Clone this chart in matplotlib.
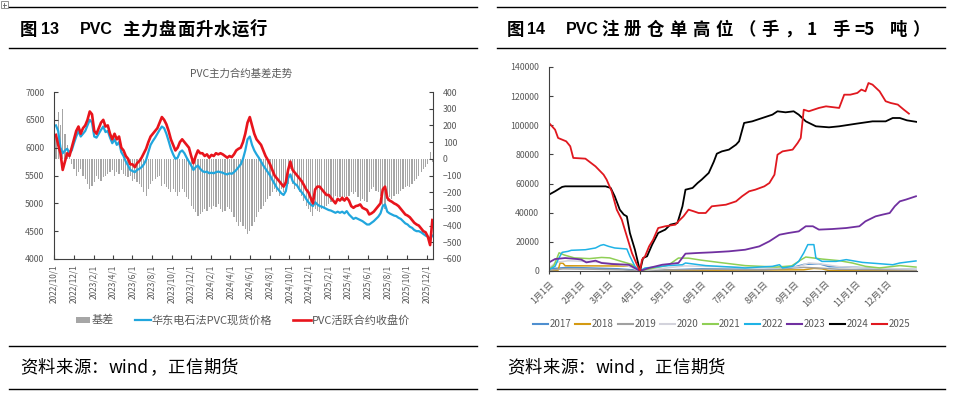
import matplotlib
matplotlib.use('Agg')
import matplotlib.pyplot as plt
from matplotlib.lines import Line2D
from matplotlib.patches import Rectangle
import pandas as pd

plt.rcParams['font.family'] = ['Noto Sans CJK SC', 'DejaVu Sans']

# ---------------- left chart data (weekly, Fridays from 2022-10-07) ----------------
futures = [
    6230, 6050, 5900, 5600,            # 2022-10
    5750, 5900, 5850, 6000,            # 2022-11
    6150, 6300, 6380, 6250, 6350,      # 2022-12
    6400, 6500, 6650, 6600,            # 2023-01
    6300, 6250, 6350, 6450,            # 2023-02
    6500, 6380, 6400, 6250, 6150,      # 2023-03
    6250, 6150, 6200, 6000,            # 2023-04
    5950, 5850, 5800, 5700,            # 2023-05
    5700, 5650, 5720, 5760, 5820,      # 2023-06
    5900, 5980, 6100, 6200,            # 2023-07
    6250, 6300, 6350, 6450,            # 2023-08
    6550, 6500, 6420, 6300, 6150,      # 2023-09
    6050, 5950, 6000, 6100,            # 2023-10
    6150, 6100, 6050, 6000,            # 2023-11
    5850, 5720, 5850, 5950, 5900,      # 2023-12
    5900, 5850, 5880, 5820,            # 2024-01
    5870, 5850, 5900, 5880,            # 2024-02
    5900, 5880, 5850, 5820, 5850,      # 2024-03
    5830, 5880, 5950, 5980,            # 2024-04
    6000, 6100, 6250, 6450, 6550,      # 2024-05
    6400, 6250, 6150, 6100,            # 2024-06
    6050, 5950, 5850, 5780,            # 2024-07
    5700, 5600, 5500, 5450, 5400,      # 2024-08
    5350, 5300, 5380, 5600,            # 2024-09
    5750, 5600, 5550, 5500,            # 2024-10
    5450, 5400, 5330, 5250, 5200,      # 2024-11
    5100, 5000, 5250, 5300,            # 2024-12
    5300, 5250, 5200, 5150, 5150,      # 2025-01
    5100, 5050, 5000, 5080,            # 2025-02
    5050, 5100, 5050, 5100,            # 2025-03
    5050, 4950, 4920, 4950,            # 2025-04
    4960, 4980, 4920, 4900, 4880,      # 2025-05
    4800, 4820, 4850, 4900,            # 2025-06
    4950, 5000, 5250, 5300,            # 2025-07
    5100, 5050, 5030, 5000, 4980,      # 2025-08
    4950, 4900, 4850, 4800,            # 2025-09
    4780, 4750, 4700, 4650, 4620,      # 2025-10
    4600, 4550, 4500, 4480,            # 2025-11
    4400, 4250, 4700,                  # 2025-12
]
spot = [
    6400, 6300, 6000, 5900,
    5950, 5980, 5900, 5950,
    6080, 6200, 6300, 6200, 6250,
    6300, 6400, 6500, 6450,
    6200, 6180, 6250, 6320,
    6380, 6280, 6300, 6180, 6080,
    6150, 6050, 6100, 5920,
    5850, 5750, 5680, 5600,
    5580, 5560, 5600, 5620, 5650,
    5700, 5780, 5920, 6050,
    6120, 6180, 6250, 6320,
    6380, 6350, 6250, 6120, 5980,
    5880, 5800, 5820, 5920,
    5950, 5900, 5820, 5750,
    5680, 5600, 5650, 5680, 5620,
    5580, 5560, 5570, 5540,
    5550, 5540, 5560, 5570,
    5560, 5550, 5530, 5520, 5540,
    5530, 5560, 5600, 5650,
    5700, 5800, 5950, 6150, 6200,
    6050, 5950, 5880, 5820,
    5750, 5680, 5620, 5560,
    5500, 5420, 5350, 5280, 5230,
    5180, 5150, 5220, 5450,
    5520, 5400, 5350, 5320,
    5250, 5200, 5150, 5080, 5020,
    4980, 4950, 5020, 4980,
    4950, 4940, 4920, 4900, 4880,
    4870, 4850, 4830, 4850,
    4830, 4850, 4820, 4860,
    4800, 4760, 4720, 4740,
    4720, 4700, 4680, 4650, 4620,
    4620, 4650, 4680, 4720,
    4760, 4820, 4950, 4980,
    4850, 4820, 4800, 4780, 4770,
    4740, 4720, 4680, 4640,
    4620, 4580, 4560, 4520, 4500,
    4500, 4480, 4450, 4420,
    4400, 4360, 4420,
]
basis = [
    150, 280, 200, 300,
    150, 80, 50, -30,
    -60, -100, -80, -60, -100,
    -120, -150, -180, -160,
    -140, -100, -120, -130,
    -110, -100, -90, -80, -70,
    -100, -80, -90, -70,
    -90, -100, -110, -100,
    -130, -120, -140, -150, -170,
    -200, -220, -180, -150,
    -130, -120, -110, -100,
    -160, -150, -170, -180, -200,
    -180, -200, -220, -200,
    -180, -200, -230, -240,
    -280, -300, -320, -340, -330,
    -320, -300, -310, -290,
    -300, -280, -290, -270,
    -300, -320, -310, -290, -300,
    -320, -350, -380, -400,
    -380, -400, -420, -450, -430,
    -400, -380, -350, -320,
    -300, -280, -260, -240,
    -220, -200, -180, -200, -220,
    -180, -200, -160, -150,
    -60, -150, -180, -170,
    -200, -220, -250, -280, -300,
    -320, -340, -300, -310,
    -320, -300, -300, -280, -270,
    -260, -240, -220, -230,
    -230, -250, -230, -220,
    -220, -200, -210, -200,
    -230, -250, -240, -250, -260,
    -200, -180, -170, -190,
    -200, -220, -280, -300,
    -250, -230, -240, -220, -210,
    -210, -190, -180, -170,
    -160, -170, -150, -130, -120,
    -100, -80, -60, -50,
    -30, 40, -20,
]
left_series_names = ['基差', '华东电石法PVC现货价格', 'PVC活跃合约收盘价']

# ---------------- right chart data (registered warrants, by day of year) ----------------
d2017 = ['01-01', '01-20', '02-15', '03-10', '03-25', '04-01', '05-01', '06-01', '07-01', '08-01', '08-25', '09-10', '09-25', '10-05', '11-01', '12-01', '12-31']
v2017 = [1500, 2500, 2000, 1500, 800, 0, 800, 1500, 1200, 1000, 1500, 4500, 5000, 3000, 2500, 1500, 1000]
d2018 = ['01-01', '01-10', '01-12', '01-15', '01-17', '03-20', '03-25', '04-01', '05-01', '07-01', '09-10', '09-20', '09-28', '10-05', '12-31']
v2018 = [300, 600, 5500, 5200, 3600, 3400, 3300, 0, 500, 600, 800, 1800, 1500, 300, 200]
d2019 = ['01-01', '01-15', '02-15', '03-15', '04-01', '05-01', '06-15', '08-01', '09-10', '09-25', '10-15', '12-31']
v2019 = [500, 1500, 1200, 800, 0, 700, 1200, 800, 2500, 2000, 1200, 600]
d2020 = ['01-01', '01-08', '01-20', '02-10', '03-01', '03-20', '04-01', '04-20', '05-15', '06-15', '07-15', '08-15', '09-05', '09-15', '09-25', '10-15', '11-15', '12-15', '12-31']
v2020 = [2000, 6000, 7000, 6500, 5500, 3500, 0, 1500, 3500, 3000, 2500, 2000, 3000, 5500, 5000, 3000, 2000, 1500, 1200]
d2021 = ['01-01', '01-06', '01-11', '01-16', '01-26', '02-10', '02-22', '03-02', '03-14', '03-24', '04-01', '04-11', '04-29', '05-09', '05-19', '05-31', '06-18', '07-14', '08-14', '08-29', '09-08', '09-12', '09-28', '10-15', '10-28', '11-10', '11-24', '12-14', '12-30']
v2021 = [1000, 4000, 12500, 11000, 9000, 8500, 9300, 9000, 6500, 4500, 0, 1500, 4000, 8900, 8800, 7500, 5900, 3700, 2700, 3500, 8000, 9600, 8200, 7100, 5500, 3200, 2100, 3700, 2700]
d2022 = ['01-01', '01-07', '01-10', '01-14', '01-20', '01-23', '02-06', '02-16', '02-21', '02-24', '03-01', '03-07', '03-19', '03-22', '03-27', '04-01', '04-06', '04-16', '04-29', '05-13', '05-16', '06-05', '06-18', '07-01', '07-14', '07-28', '08-10', '08-17', '08-20', '08-30', '09-05', '09-10', '09-14', '09-20', '09-22', '09-28', '10-12', '10-22', '11-07', '11-24', '12-07', '12-14', '12-24', '12-30']
v2022 = [900, 3200, 7800, 12800, 13500, 14200, 14600, 15800, 17600, 18100, 16900, 15800, 15100, 10100, 3200, 0, 2100, 2700, 3700, 4300, 5500, 3700, 3200, 2700, 2100, 2700, 3200, 4300, 2100, 3200, 6600, 12400, 18100, 18100, 8900, 6600, 6600, 7800, 5900, 5000, 4300, 5500, 6400, 6900]
d2023 = ['01-01', '01-07', '01-17', '01-29', '02-02', '02-07', '02-16', '02-22', '03-04', '03-21', '04-01', '04-10', '04-23', '05-09', '05-16', '05-29', '06-11', '06-28', '07-14', '07-28', '08-07', '08-17', '08-26', '09-05', '09-12', '09-19', '09-25', '10-08', '10-22', '11-04', '11-10', '11-20', '11-27', '12-04', '12-09', '12-14', '12-20', '12-30']
v2023 = [5900, 8200, 8900, 8200, 7800, 5900, 7100, 5500, 4800, 4300, 0, 2100, 4300, 5500, 11900, 12400, 12800, 13500, 14600, 16900, 20400, 24900, 26100, 27200, 30700, 30700, 28400, 28800, 29500, 30700, 34100, 37500, 38700, 39800, 44400, 47800, 49000, 51300]
d2024 = ['01-01', '01-07', '01-14', '01-17', '02-26', '03-03', '03-07', '03-12', '03-16', '03-19', '03-22', '03-27', '04-01', '04-04', '04-08', '04-13', '04-19', '04-26', '05-01', '05-08', '05-13', '05-16', '05-23', '05-28', '06-01', '06-08', '06-13', '06-16', '06-21', '06-28', '07-05', '07-08', '07-13', '07-21', '07-31', '08-10', '08-15', '08-23', '08-31', '09-05', '09-12', '09-22', '10-05', '10-15', '11-01', '11-17', '11-30', '12-07', '12-14', '12-21', '12-31']
v2024 = [52400, 54700, 57700, 58100, 58100, 57000, 51300, 42100, 38700, 37500, 26100, 14600, 0, 8900, 10100, 18100, 26100, 28400, 31800, 32900, 44400, 55800, 57000, 60400, 62700, 67300, 75000, 80500, 82100, 83300, 86700, 89000, 101600, 102700, 105000, 107300, 109600, 108900, 109600, 107300, 102700, 99300, 98600, 99300, 101100, 102700, 102700, 105000, 105000, 103400, 102300]
d2025 = ['01-01', '01-07', '01-10', '01-18', '01-22', '01-25', '02-06', '02-16', '02-24', '02-27', '03-04', '03-09', '03-14', '03-19', '03-24', '03-29', '04-01', '04-03', '04-06', '04-10', '04-14', '04-19', '04-26', '05-06', '05-09', '05-14', '05-19', '05-24', '05-29', '06-05', '06-11', '06-25', '07-05', '07-11', '07-18', '07-24', '08-02', '08-07', '08-12', '08-15', '08-20', '08-30', '09-04', '09-07', '09-10', '09-15', '09-25', '10-02', '10-15', '10-20', '10-26', '11-02', '11-06', '11-10', '11-13', '11-17', '11-24', '11-30', '12-05', '12-12', '12-18', '12-23']
v2025 = [101600, 97000, 91300, 89000, 85600, 77600, 77100, 71800, 66100, 62700, 54700, 42100, 35200, 23800, 12400, 4300, 0, 7800, 10100, 16900, 21500, 29500, 30700, 31800, 34100, 37500, 42100, 41000, 39800, 39800, 44400, 45500, 47800, 51300, 54700, 55800, 58100, 60400, 66100, 79800, 82100, 83300, 87900, 91300, 110700, 109600, 111900, 113000, 111900, 121000, 121000, 122200, 124500, 123300, 129000, 127900, 123300, 116500, 115300, 114200, 110700, 108000]

years = ['2017', '2018', '2019', '2020', '2021', '2022', '2023', '2024', '2025']
year_dates = [d2017, d2018, d2019, d2020, d2021, d2022, d2023, d2024, d2025]
year_vals = [v2017, v2018, v2019, v2020, v2021, v2022, v2023, v2024, v2025]
year_colors = ['#4f8fd0', '#d49a12', '#a0a0a0', '#d3d3dc', '#8fcf55', '#1fb3e6', '#7030a0', '#000000', '#e0181f']

# ---------------- figure ----------------
W, H = 954, 394
fig = plt.figure(figsize=(W / 100, H / 100), dpi=100)
renderer = fig.canvas.get_renderer()


def fx(px):
    return px / W


def fy(py):
    return 1 - py / H


def hline(x0, x1, y, lw=1.0, color='black'):
    fig.add_artist(Line2D([fx(x0), fx(x1)], [fy(y), fy(y)], color=color, lw=lw))


def fit_tokens(x0, x1, y, tokens, size, **kw):
    """draw tokens one by one so that together they span x0..x1 (pixels)."""
    arts, widths = [], []
    for tok in tokens:
        if tok == ' ':
            arts.append(None)
            widths.append(size * 0.3)
            continue
        t = fig.text(0, fy(y), tok, fontsize=size, va='center', ha='left', **kw)
        arts.append(t)
        widths.append(t.get_window_extent(renderer).width)
    gap = (x1 - x0 - sum(widths)) / max(len(tokens) - 1, 1)
    x = x0
    for t, w in zip(arts, widths):
        if t is not None:
            t.set_x(fx(x))
        x += w + gap


# tiny icon at top-left
fig.add_artist(Rectangle((fx(1), fy(8)), fx(7), 7 / H, fill=False, edgecolor='#808080', lw=0.6))
fig.add_artist(Line2D([fx(2.5), fx(6.5)], [fy(4.5), fy(4.5)], color='#606060', lw=0.6))
fig.add_artist(Line2D([fx(4.5), fx(4.5)], [fy(2.5), fy(6.5)], color='#606060', lw=0.6))

# header / footer rules
for (a, b) in [(9, 477), (497, 945)]:
    hline(a, b, 7)
    hline(a, b, 48)
    hline(a, b, 346)
    hline(a, b, 389)

LAT = ['Liberation Sans', 'Noto Sans CJK SC']
# left title
fig.text(fx(20), fy(30), '图', fontsize=12.5, fontweight='bold', va='center', ha='left')
fig.text(fx(41), fy(30), '13', fontsize=11.5, fontweight='bold', family=LAT, va='center', ha='left')
fig.text(fx(80), fy(30), 'PVC', fontsize=11.5, fontweight='bold', family=LAT, va='center', ha='left')
fit_tokens(122, 267, 30, list('主力盘面升水运行'), 12.5, fontweight='bold')
# right title
fig.text(fx(507), fy(30), '图', fontsize=12.5, fontweight='bold', va='center', ha='left')
fig.text(fx(527), fy(30), '14', fontsize=11.5, fontweight='bold', family=LAT, va='center', ha='left')
fig.text(fx(566), fy(30), 'PVC', fontsize=11.5, fontweight='bold', family=LAT, va='center', ha='left')
fit_tokens(601, 930, 30, list('注册仓单高位（手，') + ['1', ' ', '手', '=5', ' ', '吨', '）'], 12.5, fontweight='bold')

# footers
foot = ['资', '料', '来', '源', '：', 'wind', '，', '正', '信', '期', '货']
fit_tokens(20, 238, 368, foot, 12.5)
fit_tokens(507, 725, 368, foot, 12.5)

TXT = '#595959'

# ---------------- left chart ----------------
weeks = pd.date_range('2022-10-07', periods=len(futures), freq='W-FRI')
ax1 = fig.add_axes([fx(54), fy(259), fx(433) - fx(54), fy(92) - fy(259)])
ax2 = ax1.twinx()
ax2.bar(weeks, basis, width=3.6, color='#a6a6a6', linewidth=0)
ax1.plot(weeks, spot, color='#21a6dd', lw=1.6)
ax1.plot(weeks, futures, color='#e8141c', lw=1.9)
ax1.set_zorder(ax2.get_zorder() + 1)
ax1.patch.set_visible(False)

ax1.set_xlim(pd.Timestamp('2022-10-01'), pd.Timestamp('2025-12-21'))
ax1.set_ylim(4000, 7000)
ax2.set_ylim(-600, 400)
ax1.set_yticks(range(4000, 7001, 500))
ax2.set_yticks(range(-600, 401, 100))
xt = pd.date_range('2022-10-01', '2025-12-01', freq='2MS')
ax1.set_xticks(xt, labels=[f'{d.year}/{d.month}/{d.day}' for d in xt])
ax1.tick_params(axis='x', rotation=90, labelsize=6, colors=TXT, direction='in', length=3, pad=4)
ax1.tick_params(axis='y', labelsize=6.3, colors=TXT, direction='in', length=3, pad=7)
ax2.tick_params(axis='y', labelsize=6.3, colors=TXT, direction='in', length=3, pad=7)
for ax in (ax1, ax2):
    ax.tick_params(color='#404040')
    ax.spines['top'].set_visible(False)
ax1.spines['right'].set_visible(False)
ax2.spines['left'].set_visible(False)
ax2.spines['bottom'].set_visible(False)
for sp in ('left', 'bottom'):
    ax1.spines[sp].set_color('#404040')
ax2.spines['right'].set_color('#404040')

fig.text(fx(241), fy(74), 'PVC主力合约基差走势', fontsize=7.5, color=TXT, ha='center', va='center')

# left legend
fig.add_artist(Rectangle((fx(76), fy(323)), fx(14), 6 / H, color='#a6a6a6', lw=0))
fig.text(fx(92), fy(320), left_series_names[0], fontsize=8, color=TXT, va='center', ha='left')
fig.add_artist(Line2D([fx(135), fx(151)], [fy(320), fy(320)], color='#21a6dd', lw=1.6))
fig.text(fx(152), fy(320), left_series_names[1], fontsize=8, color=TXT, va='center', ha='left')
fig.add_artist(Line2D([fx(293), fx(311)], [fy(320), fy(320)], color='#e8141c', lw=1.9))
fig.text(fx(312), fy(320), left_series_names[2], fontsize=8, color=TXT, va='center', ha='left')

# ---------------- right chart ----------------
ax3 = fig.add_axes([fx(549), fy(271), fx(917) - fx(549), fy(67) - fy(271)])
for yr, ds, vs, c in zip(years, year_dates, year_vals, year_colors):
    xs = pd.to_datetime(['2025-' + d for d in ds])
    ax3.plot(xs, vs, color=c, lw=1.3 if yr in ('2024', '2025', '2023') else 1.1)
ax3.set_xlim(pd.Timestamp('2025-01-01'), pd.Timestamp('2025-12-31'))
ax3.set_ylim(0, 140000)
ax3.set_yticks(range(0, 140001, 20000), labels=[str(v) for v in range(0, 140001, 20000)])
mt = pd.date_range('2025-01-01', '2025-12-01', freq='MS')
ax3.set_xticks(mt, labels=[f'{d.month}月1日' for d in mt])
for lab in ax3.get_xticklabels():
    lab.set_rotation(45)
    lab.set_ha('right')
    lab.set_rotation_mode('anchor')
ax3.tick_params(axis='x', labelsize=6.5, colors=TXT, direction='out', length=2, pad=4)
ax3.tick_params(axis='y', labelsize=6.3, colors=TXT, direction='in', length=3, pad=7)
ax3.tick_params(color='#404040')
ax3.spines['top'].set_visible(False)
ax3.spines['right'].set_visible(False)
ax3.spines['left'].set_color('#404040')
ax3.spines['bottom'].set_color('#404040')

# right legend
for i, (yr, c) in enumerate(zip(years, year_colors)):
    x0 = 533 + i * 42.4
    fig.add_artist(Line2D([fx(x0), fx(x0 + 15)], [fy(324), fy(324)], color=c, lw=1.5))
    fig.text(fx(x0 + 16.5), fy(324), yr, fontsize=7, color=TXT, va='center', ha='left')

fig.savefig('out.png', dpi=100)
